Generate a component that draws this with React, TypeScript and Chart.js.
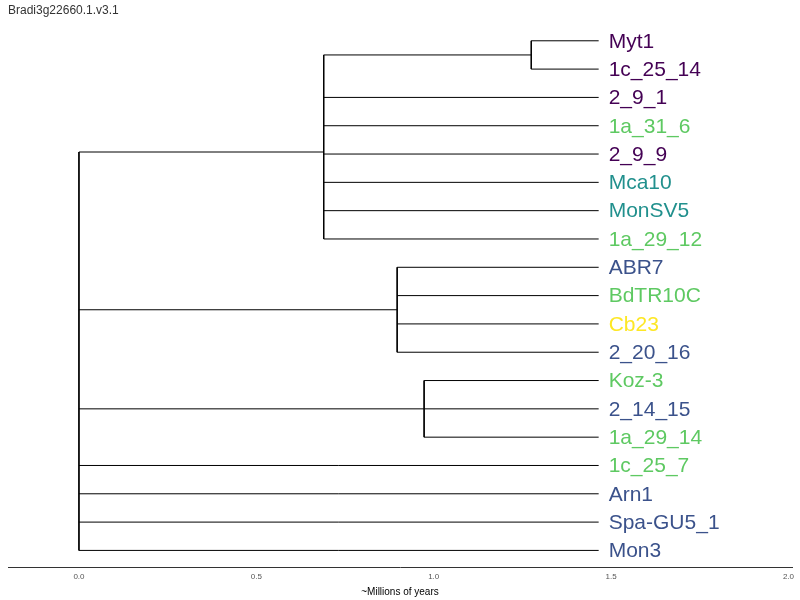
import { useEffect, useRef } from 'react';
import { Chart, registerables } from 'chart.js';

Chart.register(...registerables);

const leafNames = ['Myt1', '1c_25_14', '2_9_1', '1a_31_6', '2_9_9', 'Mca10', 'MonSV5', '1a_29_12',
  'ABR7', 'BdTR10C', 'Cb23', '2_20_16', 'Koz-3', '2_14_15', '1a_29_14', '1c_25_7', 'Arn1', 'Spa-GU5_1', 'Mon3'];
const leafColors = ['#440154', '#440154', '#440154', '#5ec962', '#440154', '#21908d', '#21908d', '#5ec962',
  '#3b528b', '#5ec962', '#fde725', '#3b528b', '#5ec962', '#3b528b', '#5ec962', '#5ec962', '#3b528b', '#3b528b', '#3b528b'];
const tipAge = 1.465;
// internal nodes: name, age (x), children (leaf index or node name)
const nodeNames = ['root', 'A', 'P', 'B', 'C'];
const nodeAges = [0, 0.69, 1.275, 0.897, 0.973];
const nodeChildren: (number | string)[][] = [
  ['A', 'B', 'C', 15, 16, 17, 18],
  ['P', 2, 3, 4, 5, 6, 7],
  [0, 1],
  [8, 9, 10, 11],
  [12, 13, 14],
];
const xTicks = [0, 0.5, 1.0, 1.5, 2.0];

function nodeY(c: number | string): number {
  if (typeof c === 'number') return c;
  const i = nodeNames.indexOf(c);
  const ys = nodeChildren[i].map(nodeY);
  return ys.reduce((a, b) => a + b, 0) / ys.length;
}
function nodeX(c: number | string): number {
  return typeof c === 'number' ? tipAge : nodeAges[nodeNames.indexOf(c)];
}

function buildSegments() {
  const segs: { x: number; y: number }[][] = [];
  nodeNames.forEach((n, i) => {
    const x = nodeAges[i];
    const ys = nodeChildren[i].map(nodeY);
    segs.push([{ x, y: Math.min(...ys) }, { x, y: Math.max(...ys) }]);
    nodeChildren[i].forEach((c) => {
      const y = nodeY(c);
      segs.push([{ x, y }, { x: nodeX(c), y }]);
    });
  });
  return segs;
}

const labelPlugin = {
  id: 'leafLabels',
  afterDatasetsDraw(chart: any) {
    const { ctx, scales } = chart;
    ctx.save();
    ctx.font = '21px "Liberation Sans", Arial, sans-serif';
    ctx.textBaseline = 'middle';
    leafNames.forEach((name, i) => {
      ctx.fillStyle = leafColors[i];
      ctx.fillText(name, scales.x.getPixelForValue(tipAge) + 10, scales.y.getPixelForValue(i) + 1);
    });
    ctx.restore();
  },
};

export default function App() {
  const canvasRef = useRef<HTMLCanvasElement>(null);
  useEffect(() => {
    document.body.style.margin = '0';
    const chart = new Chart(canvasRef.current!, {
      type: 'scatter',
      data: {
        datasets: buildSegments().map((s) => ({
          data: s,
          showLine: true,
          borderColor: '#000',
          borderWidth: 1,
          pointRadius: 0,
        })),
      },
      options: {
        animation: false,
        responsive: false,
        layout: { padding: { left: 8, right: 8, top: 0, bottom: 0 } },
        plugins: {
          legend: { display: false },
          tooltip: { enabled: false },
          title: {
            display: true,
            text: 'Bradi3g22660.1.v3.1',
            align: 'start',
            color: '#333',
            font: { family: '"Liberation Sans", Arial', size: 12, weight: 'normal' },
            padding: { top: 3, bottom: 3 },
          },
        },
        scales: {
          x: {
            type: 'linear',
            min: -0.2,
            max: 2.01,
            afterBuildTicks: (a: any) => { a.ticks = xTicks.map((v) => ({ value: v })); },
            ticks: {
              callback: (v: any) => Number(v).toFixed(1),
              color: '#555',
              font: { family: '"Liberation Sans", Arial', size: 8 },
              padding: 2,
            },
            grid: { display: false, tickLength: 3, tickColor: '#333' } as any,
            border: { color: '#333', width: 1 },
            title: {
              display: true,
              text: '~Millions of years',
              color: '#000',
              font: { family: '"Liberation Sans", Arial', size: 10 },
              padding: { top: 2, bottom: 2 },
            },
          },
          y: {
            type: 'linear',
            reverse: true,
            min: -0.72,
            max: 18.6,
            display: false,
          },
        },
      },
      plugins: [labelPlugin],
    });
    return () => chart.destroy();
  }, []);
  return <canvas ref={canvasRef} width={800} height={600} />;
}
